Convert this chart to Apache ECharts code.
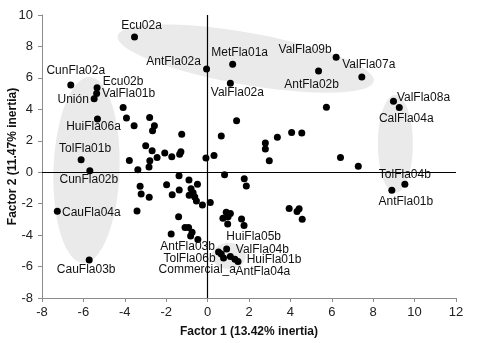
<!DOCTYPE html>
<html><head><meta charset="utf-8">
<script src="https://cdn.jsdelivr.net/npm/echarts@6/dist/echarts.min.js"></script>
<style>html,body{margin:0;padding:0;background:#fff}#c{width:483px;height:343px}</style>
</head><body><div id="c"></div>
<script>
// ---- data ----
const xAxisTitle = 'Factor 1 (13.42% inertia)';
const yAxisTitle = 'Factor 2 (11.47% inertia)';

const labelNames = ['Ecu02a','AntFla02a','MetFla01a','ValFla02a','ValFla09b','AntFla02b','ValFla07a','ValFla08a','CalFla04a','TolFla04b','AntFla01b','CunFla02a','Ecu02b','ValFla01b','Unión','HuiFla06a','TolFla01b','CunFla02b','CauFla04a','CauFla03b','AntFla03b','Commercial_a','HuiFla05b','TolFla06b','ValFla04b','AntFla04a','HuiFla01b'];
const labelX = [-3.53,-0.05,1.21,1.10,6.21,5.36,7.45,8.98,9.26,9.53,8.90,-6.61,-5.34,-5.36,-5.48,-5.32,-6.11,-5.69,-7.26,-5.72,0.53,0.66,0.92,0.77,1.10,1.32,1.47];
const labelY = [8.60,6.57,6.87,5.66,7.31,6.44,6.06,4.51,4.11,-0.76,-1.14,5.55,5.38,5.00,4.68,3.39,0.80,0.10,-2.48,-5.58,-5.07,-5.20,-4.88,-5.45,-5.36,-5.53,-5.68];

const otherX = [-4.08,-3.92,-3.55,-2.80,-2.57,-2.66,-1.25,-2.99,-2.68,-2.07,-2.44,-1.73,-1.35,-1.29,-3.78,-2.79,-2.83,-3.37,-0.08,0.31,0.66,1.40,5.74,2.79,2.79,3.37,4.06,4.55,2.98,6.42,7.28,0.82,1.77,1.87,3.94,4.32,4.42,4.57,0.13,-0.25,0.90,1.10,0.74,0.99,0.97,1.64,1.76,-3.26,-3.21,-2.82,-3.41,-1.38,-0.90,-0.49,-0.80,-1.98,-1.71,-1.37,-0.89,-0.70,-0.62,-0.54,-1.40,-1.76,-1.09,-0.92,-0.75,-0.82,-0.47];
const otherY = [4.11,3.45,2.96,3.48,2.95,2.64,2.41,1.69,1.37,1.23,0.94,0.98,1.15,1.31,0.75,0.73,0.34,0.15,0.91,1.06,2.30,3.27,4.13,1.86,1.47,2.22,2.52,2.49,0.73,0.93,0.38,-0.16,-0.41,-0.87,-2.31,-2.50,-2.33,-2.99,-1.92,-2.08,-2.54,-2.62,-2.92,-2.84,-3.30,-2.97,-3.39,-0.89,-1.39,-1.59,-2.47,-0.23,-0.50,-0.76,-1.05,-0.79,-1.44,-1.13,-1.46,-1.30,-1.58,-1.83,-2.83,-3.93,-3.51,-3.51,-3.82,-4.05,-4.28];

// group ellipse centres (data units)
const ellipseX = [-5.85, 1.84, 9.07, 1.03];
const ellipseY = [0.14, 7.23, 1.80, -5.32];

// ---- styles / layout (pixels) ----
const ellipseShape = [
  {rx: 33, ry: 93, rot: 2},
  {rx: 130, ry: 26, rot: 10},
  {rx: 17.5, ry: 49, rot: 0},
  {rx: 17, ry: 13, rot: 0}
];
const labelOffset = {
  'Ecu02a':[7,-11],'AntFla02a':[-33,-7],'MetFla01a':[7,-12],'ValFla02a':[7,9],
  'ValFla09b':[-31,-8],'AntFla02b':[-7,14],'ValFla07a':[7,-12],'ValFla08a':[30,-4],
  'CalFla04a':[7,11],'TolFla04b':[0,-9],'AntFla01b':[14,12],'CunFla02a':[5,-14],
  'Ecu02b':[26,-6],'ValFla01b':[32,0],'Unión':[-21,1],'HuiFla06a':[-4,8],
  'TolFla01b':[4,-11],'CunFla02b':[-1,9],'CauFla04a':[34,1],'CauFla03b':[-3,10],
  'AntFla03b':[-31,-5],'Commercial_a':[-24,16],'HuiFla05b':[27,-12],'TolFla06b':[-34,1],
  'ValFla04b':[32,-7],'AntFla04a':[28,13],'HuiFla01b':[36,-2]
};
const SYM = 7;
const FONT = "'Liberation Sans',Arial,sans-serif";

const chart = echarts.init(document.getElementById('c'), null, {renderer:'canvas'});

const labeledData = labelNames.map((n,i)=>{
  const o = labelOffset[n] || [0,0];
  return {
    name:n, value:[labelX[i], labelY[i]],
    label:{show:true, formatter:n, position:[SYM/2 + o[0], SYM/2 + o[1]],
           align:'center', verticalAlign:'middle', color:'#111', fontSize:12, fontFamily:FONT}
  };
});
const otherData = otherX.map((x,i)=>[x, otherY[i]]);
const ellipseData = ellipseX.map((x,i)=>[x, ellipseY[i]]);

chart.setOption({
  animation:false,
  grid:{left:42, right:27, top:15, bottom:45, containLabel:false, outerBoundsMode:'none'},
  xAxis:{type:'value', min:-8, max:12, interval:2,
    axisLine:{onZero:false, lineStyle:{color:'#8c8c8c', width:1}},
    axisTick:{show:true, length:4, lineStyle:{color:'#8c8c8c'}},
    axisLabel:{color:'#222', fontSize:13, fontFamily:FONT, margin:8},
    splitLine:{show:false},
    name:xAxisTitle, nameLocation:'middle', nameGap:28, nameMoveOverlap:false,
    nameTextStyle:{fontSize:12, fontWeight:'bold', color:'#111', fontFamily:FONT}
  },
  yAxis:{type:'value', min:-8, max:10, interval:2,
    axisLine:{onZero:false, lineStyle:{color:'#8c8c8c', width:1}},
    axisTick:{show:true, length:4, lineStyle:{color:'#8c8c8c'}},
    axisLabel:{color:'#222', fontSize:13, fontFamily:FONT, margin:9},
    splitLine:{show:false},
    name:yAxisTitle, nameLocation:'middle', nameGap:23, nameMoveOverlap:false,
    nameTextStyle:{fontSize:12, fontWeight:'bold', color:'#111', fontFamily:FONT}
  },
  series:[
    {type:'custom', z:1, silent:true, data:ellipseData,
     renderItem:function(params, api){
       const c = api.coord([api.value(0), api.value(1)]);
       const s = ellipseShape[params.dataIndex];
       const th = s.rot*Math.PI/180;
       const pts = [];
       for(let k=0;k<96;k++){
         const t = k/96*2*Math.PI;
         const ex = s.rx*Math.cos(t), ey = s.ry*Math.sin(t);
         pts.push([c[0]+ex*Math.cos(th)-ey*Math.sin(th), c[1]+ex*Math.sin(th)+ey*Math.cos(th)]);
       }
       return {type:'polygon', shape:{points:pts}, style:{fill:'#eaeaea'}};
     }},
    {type:'scatter', z:2, data:[], silent:true,
     markLine:{silent:true, symbol:['none','none'], label:{show:false},
       lineStyle:{color:'#000', width:1.2, type:'solid'},
       data:[{xAxis:0},{yAxis:0}]}},
    {type:'scatter', z:3, symbolSize:SYM, itemStyle:{color:'#000', opacity:1}, data:otherData},
    {type:'scatter', z:4, symbolSize:SYM, itemStyle:{color:'#000', opacity:1}, data:labeledData,
     labelLayout:{hideOverlap:false}}
  ]
});
</script>
</body></html>
